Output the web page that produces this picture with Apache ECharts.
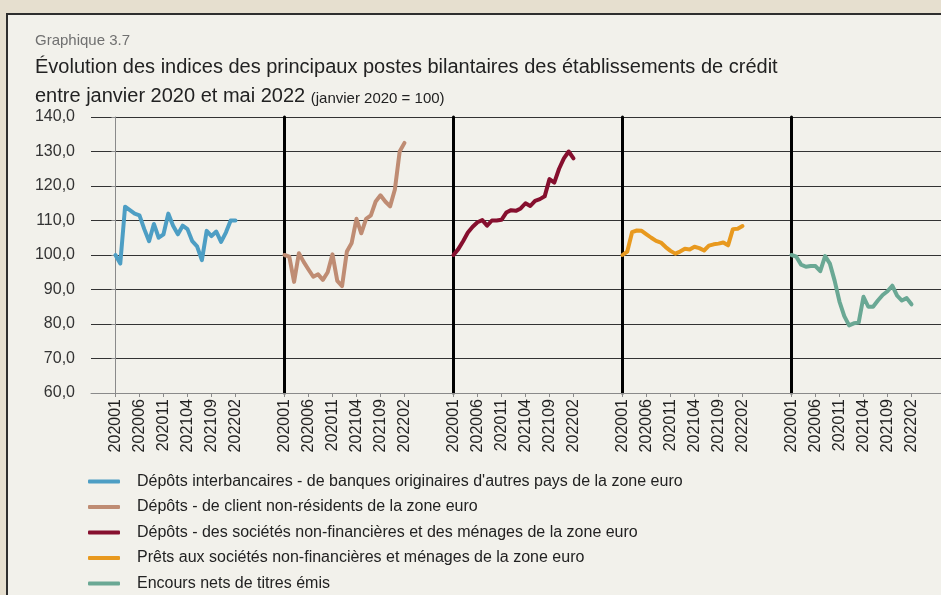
<!DOCTYPE html>
<html>
<head>
<meta charset="utf-8">
<script src="https://cdn.jsdelivr.net/npm/echarts@6/dist/echarts.min.js"></script>
<style>
	html,body{margin:0;padding:0;background:#e6dfcf;overflow:hidden;}
	#cadre{position:absolute;left:6px;top:13px;width:1000px;height:700px;border:2px solid #2e2e2e;background:#f2f1eb;}
	#chart{position:absolute;left:0;top:0;width:941px;height:595px;}
</style>
</head>
<body>
<div id="cadre"></div>
<div id="chart"></div>
<script>
// mois (axe des abscisses)
var months = ['202001','202002','202003','202004','202005','202006','202007','202008','202009','202010','202011','202012',
	'202101','202102','202103','202104','202105','202106','202107','202108','202109','202110','202111','202112',
	'202201','202202'];
var tickMonths = [0, 5, 10, 15, 20, 25];

// indices janvier 2020 = 100
var interbancaires = [100, 97.5, 114, 113, 112, 111.5, 107.5, 104, 109, 105, 106, 112, 108.5, 106, 108.5, 107.5, 104, 102.5, 98.5, 107, 105.5, 106.8, 103.8, 106.5, 110, 110];
var nonResidents = [100, 99.5, 92.2, 100.5, 98, 95.8, 93.7, 94.4, 92.8, 95, 100.2, 92.5, 91, 101, 103.5, 110.5, 106.3, 110.5, 111.5, 115.5, 117.3, 115.5, 114.1, 119, 130, 132.5];
var snfMenages = [100, 101.7, 104, 106.5, 108.2, 109.5, 110.1, 108.5, 110, 110, 110.2, 112.3, 113, 112.8, 113.5, 115, 114.2, 115.7, 116.2, 117, 122, 121, 125, 128, 130, 128];
var prets = [100, 101, 106.6, 107.1, 107, 106, 105, 104.1, 103.6, 102.3, 101.2, 100.4, 101, 101.8, 101.6, 102.4, 102, 101.3, 102.7, 103.1, 103.3, 103.6, 102.8, 107.5, 107.6, 108.4];
var titres = [100, 99.5, 97.2, 96.6, 96.8, 96.8, 95.3, 99.7, 97.5, 92.5, 86.5, 82.3, 79.6, 80.2, 80.4, 87.9, 85, 85, 86.8, 88.4, 89.5, 91.1, 88.2, 86.8, 87.5, 85.7];

var names = [
	"Dépôts interbancaires - de banques originaires d'autres pays de la zone euro",
	'Dépôts - de client non-résidents de la zone euro',
	'Dépôts - des sociétés non-financières et des ménages de la zone euro',
	'Prêts aux sociétés non-financières et ménages de la zone euro',
	'Encours nets de titres émis'
];
var colors = ['#4d9ec4', '#bf8c73', '#860f2e', '#e8991e', '#6aa894'];
var allData = [interbancaires, nonResidents, snfMenages, prets, titres];

var font = "'Liberation Sans', Arial, sans-serif";
var chart = echarts.init(document.getElementById('chart'));

var grids = [], xAxes = [], yAxes = [], series = [];
for (var k = 0; k < 5; k++) {
	var w = k == 4 ? 174 : 169; // le dernier panneau va jusqu'au bord
	grids.push({left: 91 + 169 * k, top: 117, width: w, height: 276});
	xAxes.push({
		type: 'value', gridIndex: k, min: -5.1, max: -5.1 + w / 4.8,
		splitLine: {show: false},
		axisLine: {show: true, lineStyle: {color: '#8a8a8a', width: 1}},
		axisTick: {show: true, customValues: tickMonths, length: 4, lineStyle: {color: '#8a8a8a'}},
		axisLabel: {
			customValues: tickMonths, rotate: 90, margin: 6,
			fontSize: 16, color: '#222', fontFamily: font,
			formatter: function (v) { return months[v] || ''; }
		}
	});
	yAxes.push({
		type: 'value', gridIndex: k, min: 60, max: 140, interval: 10,
		axisLine: {show: true, lineStyle: {color: k == 0 ? '#8a8a8a' : '#000', width: k == 0 ? 1 : 3}},
		axisTick: {show: k == 0, length: 4, lineStyle: {color: '#8a8a8a'}},
		axisLabel: {
			show: k == 0, margin: 16, fontSize: 16, color: '#333', fontFamily: font,
			formatter: function (v) { return v.toFixed(1).replace('.', ','); }
		},
		splitLine: {show: true, lineStyle: {color: '#333', width: 1}}
	});
	series.push({
		name: names[k], type: 'line', xAxisIndex: k, yAxisIndex: k,
		symbol: 'none', showSymbol: false,
		data: allData[k].map(function (v, i) { return [i, v]; }),
		lineStyle: {width: 4, color: colors[k], cap: 'round', join: 'round'},
		itemStyle: {color: colors[k]}
	});
}

chart.setOption({
	animation: false,
	title: [
		{text: 'Graphique 3.7', left: 30, top: 28, textStyle: {fontSize: 15, fontWeight: 'normal', color: '#707070', fontFamily: font}},
		{text: 'Évolution des indices des principaux postes bilantaires des établissements de crédit', left: 30, top: 52,
			textStyle: {fontSize: 20, fontWeight: 'normal', color: '#222', fontFamily: font}},
		{text: '{a|entre janvier 2020 et mai 2022 }{b|(janvier 2020 = 100)}', left: 30, top: 77,
			textStyle: {fontWeight: 'normal', rich: {
				a: {fontSize: 20, fontWeight: 'normal', color: '#222', fontFamily: font, lineHeight: 24, verticalAlign: 'bottom'},
				b: {fontSize: 15, fontWeight: 'normal', color: '#222', fontFamily: font, lineHeight: 24, verticalAlign: 'bottom'}
			}}}
	],
	legend: {
		data: names, orient: 'vertical', left: 88, top: 473, padding: 0,
		itemWidth: 32, itemHeight: 4, itemGap: 8.5, icon: 'roundRect',
		textStyle: {fontSize: 16, color: '#222', fontFamily: font, lineHeight: 17, padding: [0, 0, 0, 12]}
	},
	grid: grids,
	xAxis: xAxes,
	yAxis: yAxes,
	series: series
});
</script>
</body>
</html>
